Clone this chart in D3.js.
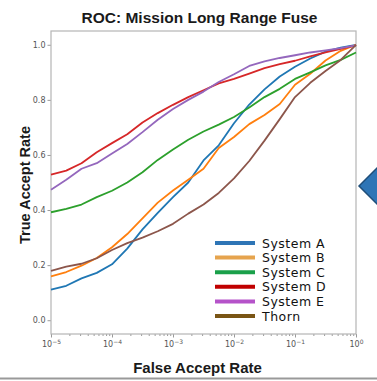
<!DOCTYPE html>
<html>
<head>
<meta charset="utf-8">
<script src="https://cdn.jsdelivr.net/npm/d3@7"></script>
<style>
  body { margin: 0; background: #fff; }
  svg { display: block; }
</style>
</head>
<body>
<div id="roc"></div>
<script>
// log10 of false accept rate, shared by every curve
var farExp = [-5, -4.75, -4.5, -4.25, -4, -3.75, -3.5, -3.25, -3, -2.75, -2.5,
              -2.25, -2, -1.75, -1.5, -1.25, -1, -0.75, -0.5, -0.25, 0];

var systemA = [0.111, 0.125, 0.152, 0.172, 0.203, 0.26, 0.33, 0.39, 0.447, 0.50, 0.58,
               0.635, 0.715, 0.783, 0.838, 0.885, 0.92, 0.95, 0.975, 0.99, 1.0];
var systemB = [0.159, 0.175, 0.198, 0.226, 0.265, 0.313, 0.37, 0.427, 0.471, 0.51, 0.55,
               0.625, 0.665, 0.712, 0.745, 0.785, 0.855, 0.895, 0.943, 0.978, 1.0];
var systemC = [0.392, 0.404, 0.42, 0.447, 0.47, 0.50, 0.537, 0.582, 0.62, 0.655, 0.685,
               0.71, 0.738, 0.772, 0.81, 0.84, 0.876, 0.9, 0.925, 0.945, 0.972];
var systemD = [0.529, 0.543, 0.57, 0.61, 0.643, 0.675, 0.718, 0.752, 0.782, 0.81, 0.835,
               0.86, 0.876, 0.895, 0.915, 0.93, 0.942, 0.958, 0.972, 0.985, 0.998];
var systemE = [0.474, 0.51, 0.55, 0.57, 0.605, 0.64, 0.683, 0.728, 0.767, 0.80, 0.83,
               0.865, 0.893, 0.923, 0.94, 0.952, 0.962, 0.972, 0.98, 0.988, 0.998];
var thorn   = [0.179, 0.195, 0.205, 0.225, 0.255, 0.28, 0.30, 0.323, 0.35, 0.387, 0.42,
               0.462, 0.515, 0.578, 0.652, 0.73, 0.81, 0.862, 0.905, 0.945, 1.0];

var names = ["System A", "System B", "System C", "System D", "System E", "Thorn"];
var values = [systemA, systemB, systemC, systemD, systemE, thorn];

var yTicks = [0, 0.2, 0.4, 0.6, 0.8, 1.0];
var xTickExp = [-5, -4, -3, -2, -1, 0];

// plot colours (matplotlib) and the colours of the pasted legend
var lineColors = ["#1f77b4", "#ff7f0e", "#2ca02c", "#d62728", "#9467bd", "#8c564b"];
var legendColors = ["#2e75b6", "#e6a44e", "#1aa04a", "#c00000", "#b553c9", "#7a5515"];

var width = 377, height = 381;
var margin = {top: 31, left: 51, bottom: 47, right: 21};

var svg = d3.select("#roc").append("svg")
    .attr("width", width).attr("height", height);

svg.append("rect").attr("width", width).attr("height", height).attr("fill", "#fff");

var x = d3.scaleLog().domain([1e-5, 1]).range([margin.left, width - margin.right]);
var y = d3.scaleLinear().domain([-0.05, 1.05]).range([height - margin.bottom, margin.top]);

// minor ticks on the log axis
var minor = [];
for (var e = -5; e < 0; e++) {
    for (var m = 2; m < 10; m++) minor.push(m * Math.pow(10, e));
}

var axisColor = "#9a9a9a";
var labelColor = "#555";

svg.append("g")
    .attr("transform", "translate(0," + (height - margin.bottom) + ")")
    .call(d3.axisBottom(x).tickValues(minor).tickSize(2).tickFormat(""))
    .call(function(g){ g.select(".domain").remove(); g.selectAll("line").attr("stroke", axisColor); });

var xAxis = svg.append("g")
    .attr("transform", "translate(0," + (height - margin.bottom) + ")")
    .call(d3.axisBottom(x).tickValues(xTickExp.map(function(d){ return Math.pow(10, d); }))
            .tickSize(3.5).tickPadding(4).tickFormat(""));
xAxis.select(".domain").remove();
xAxis.selectAll("line").attr("stroke", axisColor);
xAxis.selectAll("text")
    .attr("fill", labelColor)
    .style("font-family", "'DejaVu Sans', sans-serif")
    .style("font-size", "8px")
    .each(function(d){
        var t = d3.select(this);
        var ex = Math.round(Math.log10(d));
        t.append("tspan").text("10");
        t.append("tspan").attr("dy", "-0.45em").style("font-size", "6px")
            .text(ex < 0 ? "\u2212" + (-ex) : String(ex));
    });

var yAxis = svg.append("g")
    .attr("transform", "translate(" + margin.left + ",0)")
    .call(d3.axisLeft(y).tickValues(yTicks).tickSize(3.5).tickPadding(2).tickFormat(d3.format(".1f")));
yAxis.select(".domain").remove();
yAxis.selectAll("line").attr("stroke", axisColor);
yAxis.selectAll("text")
    .attr("fill", labelColor)
    .style("font-family", "'DejaVu Sans', sans-serif")
    .style("font-size", "8px");

// frame
svg.append("rect")
    .attr("x", margin.left).attr("y", margin.top)
    .attr("width", width - margin.right - margin.left)
    .attr("height", height - margin.bottom - margin.top)
    .attr("fill", "none").attr("stroke", "#b5b5b5").attr("stroke-width", 1.2);

var line = d3.line()
    .x(function(d){ return x(Math.pow(10, d[0])); })
    .y(function(d){ return y(d[1]); });

svg.append("g").selectAll("path").data(values)
    .enter().append("path")
    .attr("d", function(v){ return line(farExp.map(function(e, i){ return [e, v[i]]; })); })
    .attr("fill", "none")
    .attr("stroke", function(v, i){ return lineColors[i]; })
    .attr("stroke-width", 1.8)
    .attr("stroke-linejoin", "round");

// titles
svg.append("text")
    .attr("x", 199.5).attr("y", 23)
    .attr("text-anchor", "middle")
    .style("font-family", "'Liberation Sans', Arial, sans-serif")
    .style("font-weight", "bold").style("font-size", "15.5px")
    .attr("fill", "#1a1a1a")
    .text("ROC: Mission Long Range Fuse");

svg.append("text")
    .attr("x", 197.5).attr("y", 373)
    .attr("text-anchor", "middle")
    .style("font-family", "'Liberation Sans', Arial, sans-serif")
    .style("font-weight", "bold").style("font-size", "15px")
    .attr("fill", "#1a1a1a")
    .text("False Accept Rate");

svg.append("text")
    .attr("transform", "translate(30,185) rotate(-90)")
    .attr("text-anchor", "middle")
    .style("font-family", "'Liberation Sans', Arial, sans-serif")
    .style("font-weight", "bold").style("font-size", "14.5px")
    .attr("fill", "#1a1a1a")
    .text("True Accept Rate");

// legend
var legend = svg.append("g").attr("transform", "translate(215,243)");
var rows = legend.selectAll("g").data(names).enter().append("g")
    .attr("transform", function(d, i){ return "translate(0," + (i * 14.6) + ")"; });
rows.append("line")
    .attr("x1", 0).attr("x2", 40).attr("y1", 0).attr("y2", 0)
    .attr("stroke", function(d, i){ return legendColors[i]; })
    .attr("stroke-width", 4);
rows.append("text")
    .attr("x", 47).attr("y", 4.5)
    .style("font-family", "'DejaVu Sans', sans-serif")
    .style("font-size", "12.5px")
    .style("letter-spacing", "0.5px")
    .attr("fill", "#111")
    .text(function(d){ return d; });

// slide decoration: arrow at the right edge and bottom rule
svg.append("polygon")
    .attr("points", "359,186 377,168 395,186 377,204")
    .attr("fill", "#2e75b6").attr("stroke", "#1f4e79").attr("stroke-width", 1.5);

svg.append("line")
    .attr("x1", 0).attr("x2", width).attr("y1", 378.5).attr("y2", 378.5)
    .attr("stroke", "#999").attr("stroke-width", 2);
</script>
</body>
</html>
